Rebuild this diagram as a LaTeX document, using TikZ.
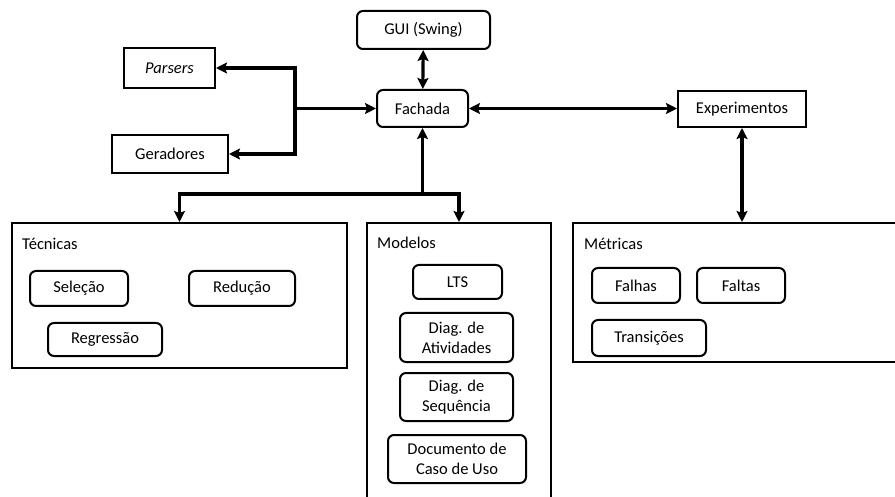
\documentclass[tikz,border=0pt]{standalone}
\usepackage{fontspec}
\setmainfont{Carlito}
\usetikzlibrary{arrows.meta}

\tikzset{
  box/.style={draw, line width=2pt, inner sep=0pt, font=\fontsize{16.5}{20}\selectfont, align=center},
  rbox/.style={box, rounded corners=6pt},
  group/.style={draw, line width=2pt, inner sep=0pt},
  grouptitle/.style={anchor=west, inner sep=0pt, font=\fontsize{16.5}{20}\selectfont},
  link/.style={line width=3.2pt, {Stealth[length=11pt,width=11pt,inset=2pt]}-{Stealth[length=11pt,width=11pt,inset=2pt]}},
  tip/.style={line width=3.2pt, -{Stealth[length=11pt,width=11pt,inset=2pt]}},
}

\begin{document}
\begin{tikzpicture}[x=1pt, y=-1pt]
\useasboundingbox (0,0) rectangle (895,497);
\clip (0,0) rectangle (895,497);
\fill[white] (0,0) rectangle (895,497);

% top row
\node[rbox, minimum width=133pt, minimum height=38pt] (gui) at (423.5,30) {GUI (Swing)};
\node[box, minimum width=91pt, minimum height=40pt] (parsers) at (169.5,68) {\itshape Parsers};
\node[box, minimum width=116pt, minimum height=38pt] (geradores) at (170,154) {Geradores};
\node[rbox, minimum width=91pt, minimum height=37pt] (fachada) at (422.5,108.5) {Fachada};
\node[box, minimum width=128pt, minimum height=36pt] (exper) at (742,109) {Experimentos};

% groups
\node[group, minimum width=335pt, minimum height=145pt] (tecnicas) at (179.5,295.5) {};
\node[grouptitle] (tectitle) at (22,244) {Técnicas};
\node[rbox, minimum width=98pt, minimum height=35pt] (selecao) at (79,288.5) {Seleção};
\node[rbox, minimum width=106pt, minimum height=35pt] (reducao) at (242,288.5) {Redução};
\node[rbox, minimum width=114pt, minimum height=33pt] (regressao) at (105,339.5) {Regressão};

\node[group, minimum width=184pt, minimum height=290pt] (modelos) at (459,368) {};
\node[grouptitle] (modtitle) at (377,243) {Modelos};
\node[rbox, minimum width=89pt, minimum height=34pt] (lts) at (457.5,282) {LTS};
\node[rbox, minimum width=113pt, minimum height=49pt] (ativ) at (456.5,337.5) {Diag. de\\Atividades};
\node[rbox, minimum width=113pt, minimum height=48pt] (seq) at (456.5,397) {Diag. de\\Sequência};
\node[rbox, minimum width=138pt, minimum height=48pt] (doc) at (457,459) {Documento de\\Caso de Uso};

\node[group, minimum width=337pt, minimum height=139pt] (metricas) at (741.5,292.5) {};
\node[grouptitle] (mettitle) at (584,244) {Métricas};
\node[rbox, minimum width=88pt, minimum height=35pt] (falhas) at (636,285.5) {Falhas};
\node[rbox, minimum width=88pt, minimum height=35pt] (faltas) at (741,285.5) {Faltas};
\node[rbox, minimum width=114pt, minimum height=36pt] (trans) at (649,338) {Transições};

% junctions
\coordinate (jleft) at (295,108.5);
\coordinate (jdown) at (422.5,194);

% connectors
\draw[link] (gui) -- (fachada);
\draw[link] (fachada.east) -- (fachada.east -| exper.west);
\draw[link] (exper) -- (exper.south |- metricas.north);
\draw[tip] (jleft) -- (fachada.west);
\draw[tip] (jleft) |- (parsers.east);
\draw[tip] (jleft) |- (geradores.east);
\draw[tip] (jdown) -- (fachada.south);
\draw[tip] (jdown) -| (tecnicas.north);
\draw[tip] (jdown) -| (modelos.north);
\end{tikzpicture}
\end{document}
